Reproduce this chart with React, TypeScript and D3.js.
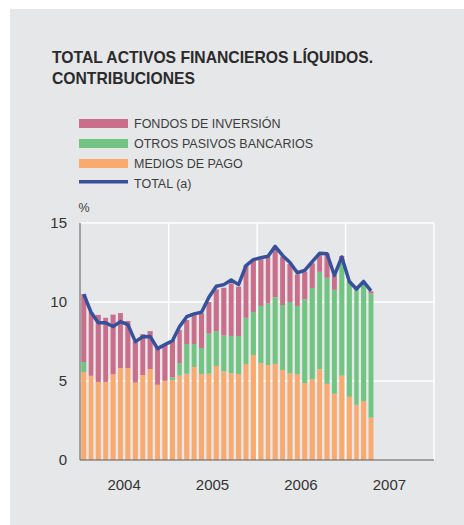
import React from "react";
import * as d3 from "d3";

// monthly contributions, Jan 2004 .. Apr 2007
const medios = [5.57, 5.33, 4.94, 4.94, 5.42, 5.82, 5.82, 4.9, 5.38, 5.76, 4.76, 5.01, 5.06, 5.34, 5.46, 5.88, 5.44, 5.46, 5.95, 5.6, 5.49, 5.44, 6.08, 6.64, 6.12, 6.01, 6.08, 5.7, 5.49, 5.44, 4.87, 5.13, 5.75, 4.82, 4.19, 5.34, 4.0, 3.49, 3.73, 2.68];
const otros = [0.63, 0, 0, 0, 0, 0, 0, 0, 0, 0, 0, 0, 0.17, 0.8, 1.88, 1.46, 1.65, 2.54, 2.21, 2.28, 2.36, 2.41, 2.92, 2.73, 3.63, 3.91, 4.22, 4.11, 4.51, 4.31, 5.3, 5.76, 6.16, 6.71, 6.58, 7.16, 7.32, 7.34, 7.47, 7.86];
const fondos = [4.3, 4.02, 4.24, 4.06, 3.78, 3.48, 2.98, 2.6, 2.59, 2.4, 2.39, 2.27, 2.37, 2.09, 1.52, 1.84, 2.19, 2.0, 2.64, 3.02, 3.33, 3.12, 3.34, 3.23, 2.95, 2.95, 3.2, 3.06, 2.4, 2.0, 1.75, 1.56, 1.17, 1.55, 0.93, 0.41, 0, 0, 0, 0.14];
const total = [10.5, 9.35, 8.68, 8.68, 8.45, 8.76, 8.57, 7.49, 7.8, 7.82, 7.05, 7.3, 7.55, 8.45, 9.07, 9.25, 9.35, 10.3, 11.0, 11.1, 11.39, 11.1, 12.3, 12.68, 12.8, 12.9, 13.52, 12.95, 12.5, 11.85, 12.0, 12.55, 13.08, 13.05, 11.68, 12.85, 11.3, 10.82, 11.3, 10.7];

const years = [2004, 2005, 2006, 2007];
const yTicks = [0, 5, 10, 15];
const seriesNames = ["FONDOS DE INVERSIÓN", "OTROS PASIVOS BANCARIOS", "MEDIOS DE PAGO", "TOTAL (a)"];
const colors = ["#c96f8c", "#72c482", "#f9aa6f", "#37509a"];

const months = medios.map((_, i) => new Date(2004, i, 1));

const plot = { left: 80, right: 434, top: 223, bottom: 460 };

export default function App() {
  const x = d3
    .scaleTime()
    .domain([new Date(2004, 0, 1), new Date(2008, 0, 1)])
    .range([plot.left, plot.right]);

  const y = d3.scaleLinear().domain([0, 15]).range([plot.bottom, plot.top]);

  const rows = months.map((m, i) => ({
    date: m,
    medios: medios[i],
    otros: otros[i],
    fondos: fondos[i],
  }));
  const stack = d3.stack<any>().keys(["medios", "otros", "fondos"])(rows);
  const stackColors = [colors[2], colors[1], colors[0]];

  const monthStart = (i: number) => x(months[i]);
  const monthEnd = (i: number) => x(new Date(2004, i + 1, 1));
  const center = (i: number) => (monthStart(i) + monthEnd(i)) / 2;

  const line = d3
    .line<number>()
    .x((_, i) => center(i))
    .y((d) => y(d));

  const gridX = [2005, 2006, 2007, 2008].map((yr) => x(new Date(yr, 0, 1)));

  return (
    <svg width={464} height={525} style={{ position: "absolute", left: 0, top: 0 }} fontFamily="'Liberation Sans', Arial, sans-serif">
      <rect x={10} y={9} width={454} height={516} fill="#e6e7e9" />

      <text x={52} y={62.5} fontSize={15.7} fontWeight="bold" fill="#2b2b2b">TOTAL ACTIVOS FINANCIEROS LÍQUIDOS.</text>
      <text x={52} y={84} fontSize={15.7} fontWeight="bold" fill="#2b2b2b">CONTRIBUCIONES</text>

      <g className="legend">
        {seriesNames.map((name, i) => (
          <g key={name} transform={`translate(79,${119 + i * 20})`}>
            {i < 3 ? (
              <rect x={0} y={0} width={49} height={9} fill={colors[i]} />
            ) : (
              <rect x={0} y={1} width={49} height={3.5} fill={colors[i]} />
            )}
            <text x={55} y={9.3} fontSize={12.5} fill="#3c3c3c">{name}</text>
          </g>
        ))}
      </g>

      <text x={84} y={212} fontSize={12.5} fill="#3c3c3c" textAnchor="middle">%</text>

      <g className="grid">
        {yTicks.filter((t) => t > 0).map((t) => (
          <line key={t} x1={plot.left} x2={plot.right} y1={y(t)} y2={y(t)} stroke="#fff" strokeWidth={1.5} />
        ))}
        {gridX.map((gx, i) => (
          <line key={i} x1={gx} x2={gx} y1={plot.top} y2={plot.bottom} stroke="#fff" strokeWidth={1.5} />
        ))}
      </g>

      <g className="bars">
        {stack.map((layer, li) =>
          layer.map((d, i) => (
            <rect
              key={`${li}-${i}`}
              x={monthStart(i) + 1.2}
              width={monthEnd(i) - monthStart(i) - 2.4}
              y={y(d[1])}
              height={Math.max(0, y(d[0]) - y(d[1]))}
              fill={stackColors[li]}
            />
          ))
        )}
      </g>

      <path d={line(total) || ""} fill="none" stroke={colors[3]} strokeWidth={3.5} strokeLinejoin="round" />

      <line x1={plot.left} x2={plot.left} y1={plot.top} y2={plot.bottom} stroke="#5a5a5a" strokeWidth={1} />
      <line x1={plot.left} x2={plot.right} y1={plot.bottom} y2={plot.bottom} stroke="#5a5a5a" strokeWidth={1} />

      <g className="y-labels">
        {yTicks.map((t) => (
          <text key={t} x={67} y={y(t) + 5.3} fontSize={15} fill="#333" textAnchor="end">{t}</text>
        ))}
      </g>

      <g className="x-labels">
        {years.map((yr) => (
          <text key={yr} x={x(new Date(yr, 6, 1))} y={490} fontSize={15} fill="#333" textAnchor="middle">{yr}</text>
        ))}
      </g>
    </svg>
  );
}
